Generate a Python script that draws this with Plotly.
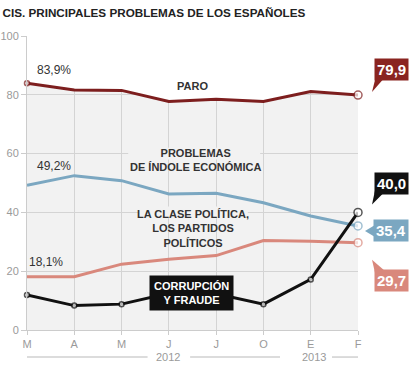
import plotly.graph_objects as go

# ---- data ----
months = ["M", "A", "M", "J", "J", "O", "E", "F"]
years = ["2012", "2013"]
paro = [83.9, 81.6, 81.5, 77.7, 78.5, 77.7, 81.1, 79.9]
economia = [49.2, 52.5, 50.8, 46.3, 46.5, 43.3, 38.8, 35.4]
clase_politica = [18.1, 18.1, 22.4, 24.1, 25.3, 30.4, 30.2, 29.7]
corrupcion = [11.9, 8.3, 8.8, 12.5, 12.3, 8.8, 17.2, 40.0]
y_ticks = [0, 20, 40, 60, 80, 100]

xs = list(range(len(months)))
last = xs[-1]
Y_MAX = y_ticks[-1]

C_PARO = "#7d1e1e"
C_PARO_BOX = "#8a2420"
C_ECO = "#7ba7c1"
C_POL = "#d9887c"
C_COR = "#111111"
GRID = "#d4d4d4"
TICK = "#9a9a9a"
BG = "#f2f2f2"
FONT = "Arial"

fig = go.Figure()

# white area above "paro" hides the grey background and gridlines
fig.add_trace(go.Scatter(
    x=xs + [last, xs[0]], y=paro + [Y_MAX, Y_MAX], fill="toself",
    fillcolor="white", line=dict(width=0), mode="lines",
    hoverinfo="skip", showlegend=False))

def line(ys, color, first_marker):
    fig.add_trace(go.Scatter(x=xs, y=ys, mode="lines",
                             line=dict(color=color, width=3),
                             showlegend=False, cliponaxis=False))
    mx = [xs[0], xs[-1]] if first_marker else [xs[-1]]
    my = [ys[0], ys[-1]] if first_marker else [ys[-1]]
    ms = [5, 8] if first_marker else [8]
    fig.add_trace(go.Scatter(x=mx, y=my, mode="markers",
                             marker=dict(size=ms, color="white",
                                         line=dict(color=color, width=1.5)),
                             showlegend=False, cliponaxis=False))

line(clase_politica, C_POL, False)
line(economia, C_ECO, False)
line(paro, C_PARO, True)
# corruption with small white dots at every point
fig.add_trace(go.Scatter(x=xs, y=corrupcion, mode="lines+markers",
                         line=dict(color=C_COR, width=3),
                         marker=dict(size=[5] * (len(xs) - 1) + [8], color="white",
                                     line=dict(color=C_COR, width=1.5)),
                         showlegend=False, cliponaxis=False))

ann = []
shapes = []
lab = dict(family=FONT, size=11, color="#333333")

ann.append(dict(x=3.51, y=83.0, text="<b>PARO</b>", showarrow=False, font=lab))
ann.append(dict(x=3.57, y=57.7, text="<b>PROBLEMAS<br>DE ÍNDOLE ECONÓMICA</b>",
                showarrow=False, font=lab))
ann.append(dict(x=3.51, y=34.4, text="<b>LA CLASE POLÍTICA,<br>LOS PARTIDOS<br>POLÍTICOS</b>",
                showarrow=False, font=lab))
ann.append(dict(x=3.47, y=12.6, text="<b>CORRUPCIÓN<br>Y FRAUDE</b>",
                showarrow=False, font=dict(family=FONT, size=11, color="white"),
                bgcolor="#111111", borderpad=4))
# grey patches behind the labels that hide the gridlines (below the lines)
for x0, x1, y0, y1 in [(2.14, 4.93, 58.0, 62.0), (2.35, 4.67, 38.0, 42.0)]:
    shapes.append(dict(type="rect", xref="x", yref="y", x0=x0, x1=x1, y0=y0, y1=y1,
                       fillcolor=BG, line=dict(width=0), layer="between"))

def fmt(v):
    return f"{v:.1f}".replace(".", ",")

valfont = dict(family=FONT, size=12, color="#333333")
ann.append(dict(x=0, y=paro[0], text=fmt(paro[0]) + "%", showarrow=False,
                xanchor="left", xshift=8, yshift=13, font=valfont))
ann.append(dict(x=0, y=economia[0], text=fmt(economia[0]) + "%", showarrow=False,
                xanchor="left", xshift=8, yshift=19, font=valfont))
ann.append(dict(x=0, y=clase_politica[0], text=fmt(clase_politica[0]) + "%", showarrow=False,
                xanchor="left", xshift=0, yshift=15, font=valfont))

# callouts at the end
callouts = [
    (paro[-1], C_PARO_BOX, 26, [(18, 19), (28, 19), (14, 3)]),
    (corrupcion[-1], C_COR, 29, [(17, 22), (28, 22), (14, 8)]),
    (economia[-1], C_ECO, -5, [(17, 1), (17, -11), (7, -5)]),
    (clase_politica[-1], C_POL, -38, [(17, -30), (29, -30), (14, -17)]),
]
for v, col, ysh, tri in callouts:
    ann.append(dict(x=last, y=v, text="<b>" + fmt(v) + "</b>", showarrow=False,
                    xanchor="center", xshift=33, yshift=ysh, bgcolor=col,
                    borderpad=2, font=dict(family=FONT, size=15, color="white")))
    path = "M {},{} L {},{} L {},{} Z".format(*[c for p in tri for c in p])
    shapes.append(dict(type="path", xsizemode="pixel", ysizemode="pixel",
                       xanchor=1, yanchor=v / Y_MAX, xref="paper", yref="paper",
                       path=path, fillcolor=col, line=dict(width=0), layer="above"))

# year labels under the months
yy = -0.092
ann.append(dict(x=2.99, y=yy, xref="x", yref="paper", text=years[0], showarrow=False,
                yanchor="middle", font=dict(family=FONT, size=11, color=TICK)))
ann.append(dict(x=6.06, y=yy, xref="x", yref="paper", text=years[1], showarrow=False,
                yanchor="middle", font=dict(family=FONT, size=11, color=TICK)))
for x0, x1 in [(-0.09, 2.55), (3.45, 5.35), (6.45, 7.0)]:
    shapes.append(dict(type="line", xref="x", yref="paper", x0=x0, x1=x1, y0=yy, y1=yy,
                       line=dict(color="#d0d0d0", width=1.5)))

fig.update_layout(
    width=414, height=367,
    margin=dict(l=27, r=56, t=36, b=37, autoexpand=False),
    paper_bgcolor="white", plot_bgcolor=BG,
    title=dict(text="<b>CIS. PRINCIPALES PROBLEMAS DE LOS ESPAÑOLES</b>",
               x=0.006, xanchor="left", y=0.965, yanchor="middle",
               font=dict(family=FONT, size=11.7, color="#222222")),
    annotations=ann, shapes=shapes,
    xaxis=dict(range=[0, last], tickvals=xs, ticktext=months, showgrid=True,
               gridcolor=GRID, gridwidth=1, zeroline=False, showline=True,
               linecolor="#cccccc", ticks="outside", ticklen=4, tickcolor="#cccccc",
               automargin=False,
               tickfont=dict(family=FONT, size=11, color=TICK)),
    yaxis=dict(range=[0, Y_MAX], tickvals=y_ticks, showgrid=True, gridcolor=GRID,
               gridwidth=1, zeroline=False, showline=True, linecolor="#cccccc",
               ticks="outside", ticklen=5, tickcolor="#cccccc", automargin=False,
               tickfont=dict(family=FONT, size=11, color=TICK)),
)

fig.write_html("out.html", config={"displayModeBar": False},
               post_script="document.body.style.margin='0';")
